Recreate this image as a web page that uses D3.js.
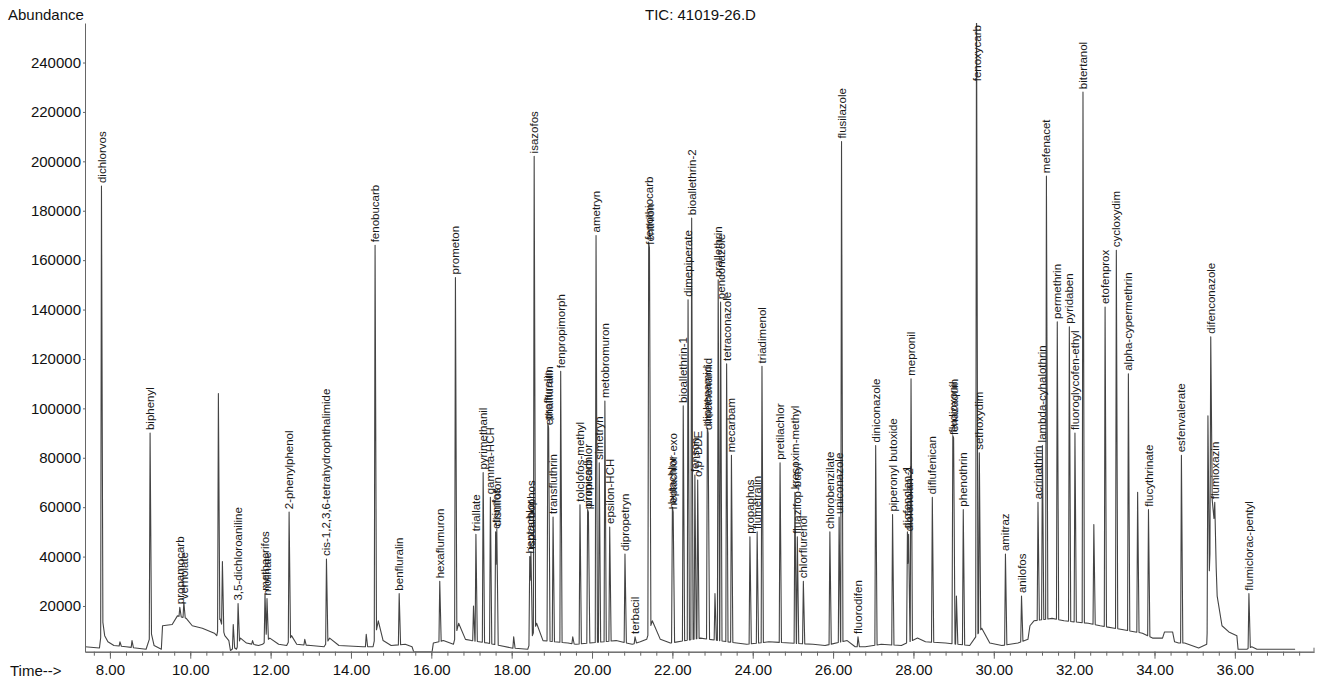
<!DOCTYPE html>
<html>
<head>
<meta charset="utf-8">
<script src="https://cdn.jsdelivr.net/npm/d3@7"></script>
<style>
  body { margin: 0; background: #fff; }
  svg text { font-family: "Liberation Sans", Arial, sans-serif; }
</style>
</head>
<body>
<svg id="chart" width="1317" height="684"></svg>
<script>
// peak table (retention time in min, apex abundance, label)
const peakTimes = [
  7.79, 8.25, 8.55, 9.00, 9.74, 9.84, 10.70, 10.80, 11.07, 11.19,
  11.55, 11.86, 11.91, 12.46, 12.85, 13.39, 14.38, 14.60, 15.20, 16.21,
  16.60, 17.05, 17.11, 17.29, 17.47, 17.60, 17.63, 18.05, 18.45, 18.48,
  18.56, 18.90, 18.92, 19.03, 19.22, 19.52, 19.70, 19.89, 19.91, 20.10,
  20.18, 20.32, 20.44, 20.82, 21.07, 21.41, 21.43, 22.00, 22.02, 22.27,
  22.39, 22.48, 22.56, 22.63, 22.87, 22.89, 23.06, 23.14, 23.20, 23.35,
  23.47, 23.93, 24.11, 24.23, 24.68, 25.05, 25.11, 25.26, 25.92, 26.15,
  26.21, 26.62, 27.06, 27.48, 27.85, 27.88, 27.94, 28.47, 28.98, 29.00,
  29.07, 29.24, 29.57, 29.64, 30.29, 30.69, 31.10, 31.21, 31.31, 31.58,
  31.88, 32.02, 32.22, 32.49, 32.77, 33.05, 33.35, 33.58, 33.85, 34.67,
  35.33, 35.40, 35.50, 36.35
];
const peakHeights = [
  190000, 5500, 6000, 90000, 19500, 21500, 106000, 38000, 12500, 21000,
  6000, 25000, 23000, 58000, 6500, 39000, 8500, 166000, 25000, 30000,
  153000, 20000, 49000, 74000, 64000, 50000, 51000, 7500, 40000, 42000,
  202000, 94000, 92000, 56000, 115000, 7500, 61000, 59000, 58000, 170000,
  78000, 103000, 52000, 41000, 7500, 167000, 165000, 60000, 58000, 101000,
  144000, 177000, 73000, 71000, 92000, 90000, 25000, 152000, 143000, 118000,
  81000, 48000, 50000, 117000, 78000, 66000, 48000, 30000, 50000, 56000,
  208000, 7500, 85000, 57000, 50000, 49000, 112000, 64000, 89000, 88000,
  24000, 59000, 270000, 82000, 41000, 24000, 62000, 85000, 194000, 135000,
  133000, 90000, 228000, 53000, 141000, 164000, 114000, 66000, 59000, 81000,
  97000, 129000, 62000, 25000
];
const peakLabels = [
  "dichlorvos", "", "", "biphenyl", "propamocarb", "vernolate", "", "", "", "3,5-dichloroaniline",
  "", "methacrifos", "molinate", "2-phenylphenol", "", "cis-1,2,3,6-tetrahydrophthalimide", "", "fenobucarb", "benfluralin", "hexaflumuron",
  "prometon", "", "triallate", "pyrimethanil", "gamma-HCH", "etrimfos", "disulfoton", "", "heptachlor", "isocarbophos",
  "isazofos", "profluralin", "ethalfluralin", "transfluthrin", "fenpropimorph", "", "tolclofos-methyl", "propisochlor", "pirimicarb", "ametryn",
  "simetryn", "metobromuron", "epsilon-HCH", "dipropetryn", "terbacil", "fenothiocarb", "fenthion", "butachlor", "heptachlor-exo", "bioallethrin-1",
  "dimepiperate", "bioallethrin-2", "fenson", "o,p'-DDE", "diphenamid", "dimethenamid", "", "prallethrin", "penconazole", "tetraconazole",
  "mecarbam", "propaphos", "flumetralin", "triadimenol", "pretilachlor", "kresoxim-methyl", "fluazifop-butyl", "chlorflurenol", "chlorobenzilate", "uniconazole",
  "flusilazole", "fluorodifen", "diniconazole", "piperonyl butoxide", "diofenolan-1", "diofenolan-2", "mepronil", "diflufenican", "fludioxonil", "fenazaquin",
  "", "phenothrin", "fenoxycarb", "sethoxydim", "amitraz", "anilofos", "acrinathrin", "lambda-cyhalothrin", "mefenacet", "permethrin",
  "pyridaben", "fluoroglycofen-ethyl", "bitertanol", "", "etofenprox", "cycloxydim", "alpha-cypermethrin", "", "flucythrinate", "esfenvalerate",
  "", "difenconazole", "flumioxazin", "flumiclorac-pentyl"
];

// baseline (including peak tails and humps)
const baseTimes = [
  7.38, 7.74, 7.82, 7.87, 7.95, 8.10, 8.40, 8.90, 9.03, 9.10,
  9.28, 9.31, 9.55, 9.68, 9.90, 10.05, 10.30, 10.60, 10.66, 10.74,
  10.86, 10.96, 11.00, 11.04, 11.11, 11.15, 11.25, 11.40, 11.70, 11.80,
  11.98, 12.20, 12.40, 12.52, 12.65, 13.00, 13.33, 13.47, 13.70, 14.30,
  14.55, 14.68, 14.80, 15.00, 15.35, 15.52, 15.56, 16.02, 16.05, 16.30,
  16.55, 16.68, 16.85, 17.00, 17.40, 17.70, 18.00, 18.40, 18.62, 18.78,
  19.40, 19.60, 20.60, 21.00, 21.20, 21.36, 21.50, 21.70, 21.95, 22.70,
  23.60, 23.85, 24.40, 25.50, 25.80, 26.35, 26.55, 26.80, 27.20, 27.70,
  28.10, 28.30, 28.80, 29.40, 29.70, 29.90, 30.20, 30.60, 30.85, 30.90,
  31.00, 31.45, 31.75, 32.35, 32.65, 33.00, 33.70, 33.95, 34.20, 34.25,
  34.45, 34.50, 34.60, 34.75, 35.10, 35.30, 35.43, 35.50, 35.56, 35.68,
  35.85, 36.05, 36.08, 36.30, 36.42, 36.55, 37.50
];
const baseLevels = [
  3500, 3000, 14000, 8000, 5500, 4000, 3500, 2500, 9000, 4000,
  2500, 12000, 12500, 16000, 15000, 12000, 11000, 9000, 8000, 15000,
  8000, 6000, 2000, 2500, 3000, 2500, 7000, 5000, 4000, 4500,
  7000, 4500, 4000, 8000, 4500, 4000, 3500, 7000, 4000, 3500,
  3500, 14000, 6000, 4000, 4500, 3500, 1500, 1500, 5000, 6000,
  4500, 13000, 6500, 6000, 5000, 4000, 3000, 2500, 13000, 6000,
  5000, 4500, 6000, 4500, 5500, 6500, 14000, 6500, 5000, 7000,
  5000, 4500, 5500, 4500, 4000, 6000, 3500, 3500, 4500, 4000,
  7000, 5500, 5000, 4000, 11000, 5000, 4000, 5000, 6500, 12000,
  14000, 15000, 14000, 13000, 12000, 11000, 9000, 7000, 7000, 9500,
  9500, 5500, 5000, 5000, 3000, 4500, 64000, 52000, 24000, 12000,
  9500, 8000, 2500, 2500, 3500, 2500, 2500
];

const xTicks = [8, 10, 12, 14, 16, 18, 20, 22, 24, 26, 28, 30, 32, 34, 36];
const yTicks = [20000, 40000, 60000, 80000, 100000, 120000, 140000, 160000,
                180000, 200000, 220000, 240000];

const FONT = '"Liberation Sans", Arial, sans-serif';
const plotLeft = 85, plotRight = 1314, plotTop = 23, plotBottom = 651.7;

const svg = d3.select("#chart");

let x = d3.scaleLinear().domain([7.38, 37.97]).range([plotLeft, plotRight]);
let y = d3.scaleLinear().domain([1500, 256000]).range([plotBottom, plotTop]);

// baseline value at time t, straight segments between read points
function baseAt(t) {
  let i = d3.bisectLeft(baseTimes, t);
  if (i <= 0) return baseLevels[0];
  if (i >= baseTimes.length) return baseLevels[baseLevels.length - 1];
  let t0 = baseTimes[i - 1], t1 = baseTimes[i];
  return baseLevels[i - 1] + (baseLevels[i] - baseLevels[i - 1]) * (t - t0) / (t1 - t0);
}

// each peak drawn as a narrow spike sitting on the baseline
const halfL = 0.02, halfR = 0.035;
let times = baseTimes.slice();
peakTimes.forEach(function (t) { times.push(t - halfL, t, t + halfR); });
times = Array.from(new Set(times))
  .filter(t => t >= baseTimes[0] && t <= baseTimes[baseTimes.length - 1])
  .sort(d3.ascending);

let trace = times.map(function (t) {
  let v = baseAt(t);
  peakTimes.forEach(function (pt, i) {
    let d = t - pt;
    let w = d < 0 ? halfL : halfR;
    if (Math.abs(d) < w) {
      let pv = baseAt(t) + (peakHeights[i] - baseAt(pt)) * (1 - Math.abs(d) / w);
      if (pv > v) v = pv;
    }
  });
  return [t, v];
});

svg.append("defs").append("clipPath").attr("id", "plotclip")
  .append("rect")
  .attr("x", plotLeft).attr("y", plotTop)
  .attr("width", plotRight - plotLeft).attr("height", plotBottom - plotTop);

svg.append("path")
  .datum(trace)
  .attr("clip-path", "url(#plotclip)")
  .attr("fill", "none")
  .attr("stroke", "#444")
  .attr("stroke-width", 1.1)
  .attr("stroke-linejoin", "round")
  .attr("d", d3.line().x(d => x(d[0])).y(d => y(d[1])));

// x axis: labelled ticks every 2 min, minor ticks every 0.4 min
svg.append("g")
  .attr("transform", `translate(0,${plotBottom})`)
  .call(d3.axisBottom(x).tickValues(d3.range(7.6, 37.9, 0.4)).tickSize(4).tickSizeOuter(0).tickFormat(""))
  .call(g => g.selectAll("line,path").attr("stroke", "#666"));

svg.append("g")
  .attr("transform", `translate(0,${plotBottom})`)
  .call(d3.axisBottom(x).tickValues(xTicks).tickSize(7).tickSizeOuter(0).tickPadding(6).tickFormat(d3.format(".2f")))
  .call(g => g.attr("font-size", 15).attr("font-family", FONT))
  .call(g => g.selectAll("line,path").attr("stroke", "#666"))
  .call(g => g.selectAll("text").attr("fill", "#111"));

// right end tick of the time axis
svg.append("line")
  .attr("x1", plotRight).attr("x2", plotRight)
  .attr("y1", plotBottom - 4).attr("y2", plotBottom)
  .attr("stroke", "#666");

svg.append("g")
  .attr("transform", `translate(${plotLeft},0)`)
  .call(d3.axisLeft(y).tickValues(yTicks).tickSize(2).tickPadding(2).tickSizeOuter(0).tickFormat(d3.format("d")))
  .call(g => g.attr("font-size", 15).attr("font-family", FONT))
  .call(g => g.selectAll("line,path").attr("stroke", "#666"))
  .call(g => g.selectAll("text").attr("fill", "#111"));

svg.append("text")
  .attr("x", 8).attr("y", 20)
  .attr("font-size", 15)
  .attr("fill", "#111")
  .text("Abundance");

svg.append("text")
  .attr("x", 645).attr("y", 20)
  .attr("font-size", 15)
  .attr("fill", "#111")
  .text("TIC: 41019-26.D");

svg.append("text")
  .attr("x", 10).attr("y", 676)
  .attr("font-size", 15)
  .attr("fill", "#111")
  .text("Time-->");

// peak labels, rotated, just above each apex (pushed down if they would leave the frame)
let labels = svg.append("g").attr("font-size", 11.5).attr("fill", "#1a1a1a");
peakTimes.forEach(function (t, i) {
  if (!peakLabels[i]) return;
  let txt = labels.append("text").attr("dy", "0.35em").text(peakLabels[i]);
  let len = txt.node().getComputedTextLength();
  let yl = y(Math.min(peakHeights[i], y.domain()[1])) - 3;
  if (yl - len < plotTop + 2) yl = plotTop + 2 + len;
  txt.attr("transform", `translate(${x(t)},${yl}) rotate(-90)`);
});
</script>
</body>
</html>
